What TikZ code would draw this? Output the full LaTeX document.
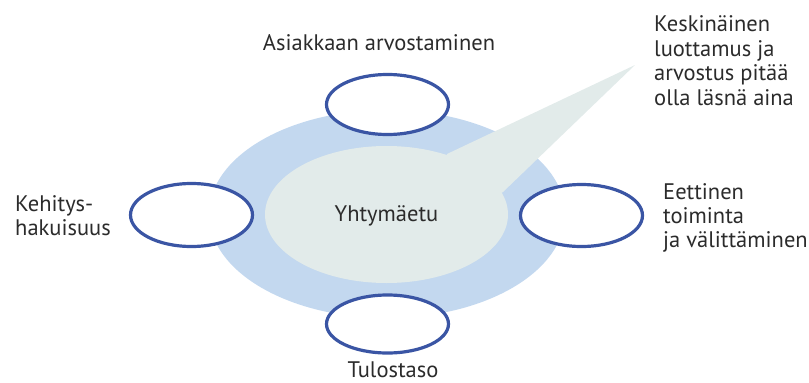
\documentclass[tikz,border=0pt]{standalone}
\usepackage{fontspec}
\setmainfont{PT Sans}
\usetikzlibrary{shapes.geometric}
\definecolor{outerblue}{HTML}{C3D8EF}
\definecolor{innergray}{HTML}{E2EBEA}
\definecolor{ringblue}{HTML}{3A55A4}
\definecolor{txt}{HTML}{2B2B2B}
\tikzset{
  ring/.style={ellipse, draw=ringblue, fill=white, line width=3.2pt, inner sep=0pt,
    minimum width=122pt, minimum height=60pt},
  lbl/.style={text=txt, inner sep=0pt, font=\fontsize{22.5}{24}\selectfont, align=left}
}
\begin{document}
\begin{tikzpicture}[x=1pt,y=-1pt]
\useasboundingbox (0,0) rectangle (809,383);
% big outer ellipse
\node[ellipse, fill=outerblue, inner sep=0pt, minimum width=356pt, minimum height=208pt] (outer) at (387,214) {};
% inner ellipse with speech tail
\node[ellipse, fill=innergray, inner sep=0pt, minimum width=243pt, minimum height=137pt] (inner) at (386.5,214.5) {};
\coordinate (tip) at (635,65);
\fill[innergray] (440,175) -- (447,154) -- (tip) -- (503,192) -- (480,205) -- cycle;
\node[text=txt, inner sep=0pt, font=\fontsize{22.5}{24}\selectfont, anchor=base] (center) at (386.5,221) {Yhtymäetu};
% small ellipses
\node[ring] (top) at (387.5,104.5) {};
\node[ring, minimum height=63pt] (left) at (191.5,215) {};
\node[ring, minimum height=62pt] (right) at (581.5,215.5) {};
\node[ring, minimum height=58pt] (bottom) at (387.5,324) {};
% labels (base anchor = baseline of last line)
\node[lbl, anchor=base] (ltop) at (379,50) {Asiakkaan arvostaminen};
\node[lbl, anchor=base west] (lleft) at (15,235) {Kehitys-\\hakuisuus};
\node[lbl, anchor=base west] (lright) at (663,247) {Eettinen\\toiminta\\ja välittäminen};
\node[lbl, anchor=base west, font=\fontsize{22.5}{24.5}\selectfont] (lnote) at (654,105) {Keskinäinen\\luottamus ja\\arvostus pitää\\olla läsnä aina};
\node[lbl, anchor=base] (lbottom) at (393,377.5) {Tulostaso};
\end{tikzpicture}
\end{document}
